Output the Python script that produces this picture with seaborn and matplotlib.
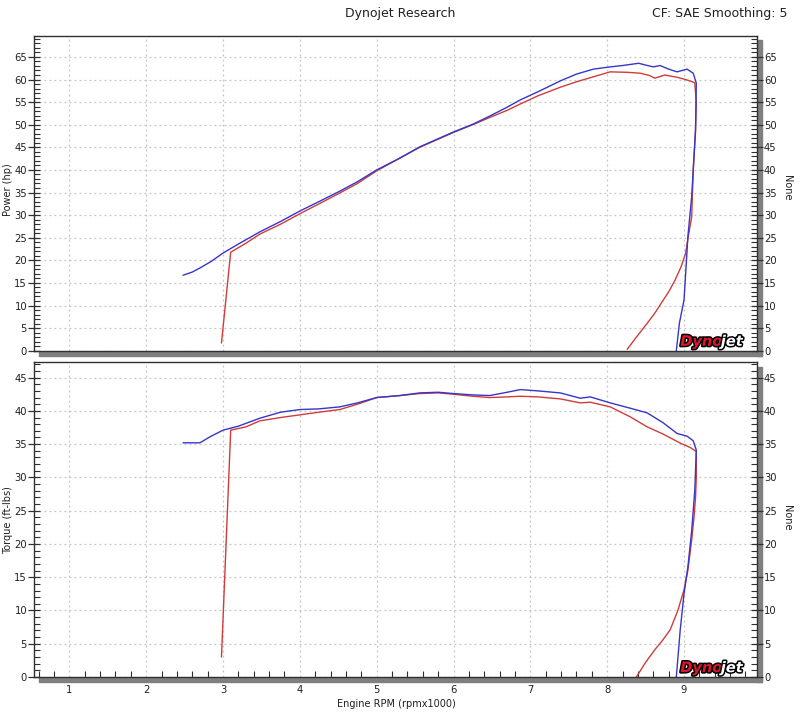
import matplotlib
matplotlib.use("Agg")
import matplotlib.pyplot as plt
import matplotlib.patheffects as pe
from matplotlib.patches import Rectangle
from matplotlib.ticker import MultipleLocator
import pandas as pd
import seaborn as sns

# ---------------- data ----------------
bp_rpm = [2.48, 2.60, 2.70, 2.85, 3.00, 3.20, 3.48, 3.75, 4.00, 4.25, 4.52, 4.75, 5.00, 5.30, 5.56, 5.80,
          6.00, 6.25, 6.47, 6.70, 6.87, 7.10, 7.39, 7.60, 7.82, 8.04, 8.20, 8.41, 8.50, 8.60, 8.69, 8.80,
          8.91, 9.04, 9.12, 9.16, 9.15, 9.12, 9.10, 9.05, 9.03, 9.00, 8.94, 8.90]
bp_hp = [16.7, 17.4, 18.3, 19.8, 21.6, 23.6, 26.3, 28.6, 30.9, 33.0, 35.3, 37.4, 40.0, 42.6, 45.1, 46.9,
         48.4, 50.1, 51.9, 53.9, 55.5, 57.3, 59.7, 61.2, 62.3, 62.8, 63.1, 63.6, 63.2, 62.8, 63.1, 62.3,
         61.7, 62.3, 61.4, 59.2, 48.8, 40.0, 34.1, 25.2, 19.4, 11.2, 6.1, 0.0]

rp_rpm = [2.98, 3.10, 3.30, 3.48, 3.75, 4.00, 4.25, 4.52, 4.75, 5.00, 5.30, 5.56, 5.80, 6.00, 6.25, 6.47,
          6.70, 6.87, 7.10, 7.39, 7.60, 7.82, 8.04, 8.26, 8.43, 8.55, 8.62, 8.75, 8.91, 9.04, 9.14, 9.16,
          9.15, 9.12, 9.10, 9.07, 9.02, 8.96, 8.88, 8.80, 8.73, 8.62, 8.50, 8.38, 8.26]
rp_hp = [1.7, 21.8, 23.8, 25.8, 28.0, 30.3, 32.5, 34.9, 37.0, 39.8, 42.6, 45.0, 46.8, 48.3, 50.0, 51.6,
         53.2, 54.6, 56.4, 58.3, 59.5, 60.6, 61.7, 61.6, 61.4, 60.9, 60.3, 61.0, 60.5, 59.9, 59.3, 55.0,
         48.8, 40.0, 29.6, 26.7, 21.5, 18.5, 15.5, 13.0, 11.2, 8.3, 5.6, 3.0, 0.3]

bt_rpm = [2.48, 2.70, 2.83, 3.00, 3.20, 3.48, 3.75, 4.00, 4.25, 4.52, 4.75, 5.00, 5.30, 5.56, 5.80, 6.00,
          6.25, 6.47, 6.70, 6.87, 7.10, 7.39, 7.65, 7.78, 8.04, 8.30, 8.52, 8.73, 8.91, 9.04, 9.12, 9.16,
          9.15, 9.14, 9.10, 9.05, 9.00, 8.95, 8.90]
bt_tq = [35.2, 35.2, 36.1, 37.1, 37.7, 38.9, 39.8, 40.2, 40.3, 40.6, 41.2, 42.0, 42.3, 42.7, 42.8, 42.6,
         42.4, 42.3, 42.8, 43.2, 43.0, 42.7, 41.9, 42.1, 41.2, 40.4, 39.7, 38.2, 36.6, 36.2, 35.5, 34.1,
         31.0, 28.0, 22.0, 16.5, 12.5, 7.0, 0.0]

rt_rpm = [2.98, 3.10, 3.30, 3.48, 3.75, 4.00, 4.25, 4.52, 4.75, 5.00, 5.30, 5.56, 5.80, 6.00, 6.25, 6.47,
          6.70, 6.87, 7.10, 7.39, 7.65, 7.78, 8.04, 8.30, 8.52, 8.73, 8.96, 9.08, 9.16, 9.16, 9.15, 9.13,
          9.10, 9.05, 9.00, 8.92, 8.82, 8.72, 8.62, 8.50, 8.38]
rt_tq = [3.0, 37.1, 37.6, 38.5, 39.0, 39.4, 39.8, 40.2, 41.0, 42.0, 42.3, 42.6, 42.7, 42.5, 42.2, 42.0,
         42.1, 42.2, 42.1, 41.8, 41.2, 41.3, 40.6, 39.1, 37.6, 36.5, 35.1, 34.5, 33.9, 30.0, 27.0, 24.0,
         20.6, 16.0, 13.1, 10.0, 7.1, 5.5, 4.1, 2.2, 0.0]

x_ticks = [1, 2, 3, 4, 5, 6, 7, 8, 9]
title_text = "Dynojet Research"
cf_text = "CF: SAE Smoothing: 5"

# ---------------- style ----------------
sns.set_style("white")
plt.rcParams['font.family'] = ['DejaVu Sans']
BLUE = '#3636c8'
RED = '#d03c3c'
SPINE = '#303030'
GRID = '#c4c4c4'
SHADOW = '#7f7f7f'

W, H = 800, 719
fig = plt.figure(figsize=(W / 100, H / 100), dpi=100)

def fx(px):
    return px / W

def fy(py):
    return 1 - py / H

L, R = 34, 757
ax1 = fig.add_axes([fx(L), fy(350.7), fx(R - L), (350.7 - 35.7) / H])
ax2 = fig.add_axes([fx(L), fy(677), fx(R - L), (677 - 362.3) / H])

# drop shadows
for top, bot in [(40, 350.7), (367, 677)]:
    fig.patches.append(Rectangle((fx(L + 5), fy(bot + 5)), fx(R + 5 - (L + 5)), 5 / H,
                                 transform=fig.transFigure, color=SHADOW, zorder=-1))
    fig.patches.append(Rectangle((fx(R), fy(bot + 5)), 5 / W, (bot + 5 - top) / H,
                                 transform=fig.transFigure, color=SHADOW, zorder=-1))

def draw(ax, xs_b, ys_b, xs_r, ys_r, ymax):
    df_b = pd.DataFrame({'rpm': xs_b, 'val': ys_b})
    df_r = pd.DataFrame({'rpm': xs_r, 'val': ys_r})
    sns.lineplot(data=df_r, x='rpm', y='val', sort=False, estimator=None, color=RED, lw=1.0, ax=ax)
    sns.lineplot(data=df_b, x='rpm', y='val', sort=False, estimator=None, color=BLUE, lw=1.0, ax=ax)
    ax.set_xlim(0.54, 9.95)
    ax.set_ylim(0, ymax)
    ax.set_xlabel('')
    ax.set_ylabel('')
    ax.xaxis.set_major_locator(MultipleLocator(1))
    ax.yaxis.set_major_locator(MultipleLocator(5))
    ax.yaxis.set_minor_locator(MultipleLocator(1))
    ax.grid(True, which='major', color=GRID, linestyle=(0, (1.5, 2.5)), lw=0.9)
    for s in ax.spines.values():
        s.set_color(SPINE)
        s.set_linewidth(1.0)
    ax.tick_params(axis='y', which='major', direction='inout', length=8, width=0.9, color=SPINE,
                   left=True, right=True, labelleft=True, labelright=True, labelsize=7.2,
                   pad=1, labelcolor='#202020')
    ax.tick_params(axis='y', which='minor', direction='in', length=4, width=0.8, color=SPINE,
                   left=True, right=True)
    # logo
    ax.text(0.952, 0.006, "Dyno", transform=ax.transAxes, ha='right', va='bottom',
            color='#e0142c', fontsize=10.5, fontweight='bold', fontstyle='italic', zorder=5,
            path_effects=[pe.withStroke(linewidth=2.2, foreground='black')])
    ax.text(0.950, 0.006, "jet", transform=ax.transAxes, ha='left', va='bottom',
            color='white', fontsize=10.5, fontweight='bold', fontstyle='italic', zorder=5,
            path_effects=[pe.withStroke(linewidth=2.2, foreground='black')])

draw(ax1, bp_rpm, bp_hp, rp_rpm, rp_hp, 69.7)
draw(ax2, bt_rpm, bt_tq, rt_rpm, rt_tq, 47.3)

ax1.set_xticks(x_ticks)
ax1.tick_params(axis='x', which='both', bottom=False, labelbottom=False)
ax2.set_xticks(x_ticks)
ax2.xaxis.set_minor_locator(MultipleLocator(0.2))
ax2.tick_params(axis='x', which='major', direction='in', length=6, width=0.9, color=SPINE,
                labelsize=7.2, pad=6, labelcolor='#202020')
ax2.tick_params(axis='x', which='minor', direction='in', length=4, width=0.8, color=SPINE,
                bottom=True)

# texts
fig.text(0.5, fy(13), title_text, ha='center', va='center', fontsize=9, color='#202020')
fig.text(fx(788), fy(13), cf_text, ha='right', va='center', fontsize=9, color='#202020')
fig.text(fx(8), fy(190), "Power (hp)", rotation=90, ha='center', va='center', fontsize=7, color='#202020')
fig.text(fx(8), fy(520), "Torque (ft-lbs)", rotation=90, ha='center', va='center', fontsize=7, color='#202020')
fig.text(fx(787), fy(188), "None", rotation=270, ha='center', va='center', fontsize=7, color='#202020')
fig.text(fx(787), fy(518), "None", rotation=270, ha='center', va='center', fontsize=7, color='#202020')
fig.text(fx(396), fy(704), "Engine RPM (rpmx1000)", ha='center', va='center', fontsize=7, color='#202020')

fig.savefig("out.png", dpi=100, facecolor='white')
